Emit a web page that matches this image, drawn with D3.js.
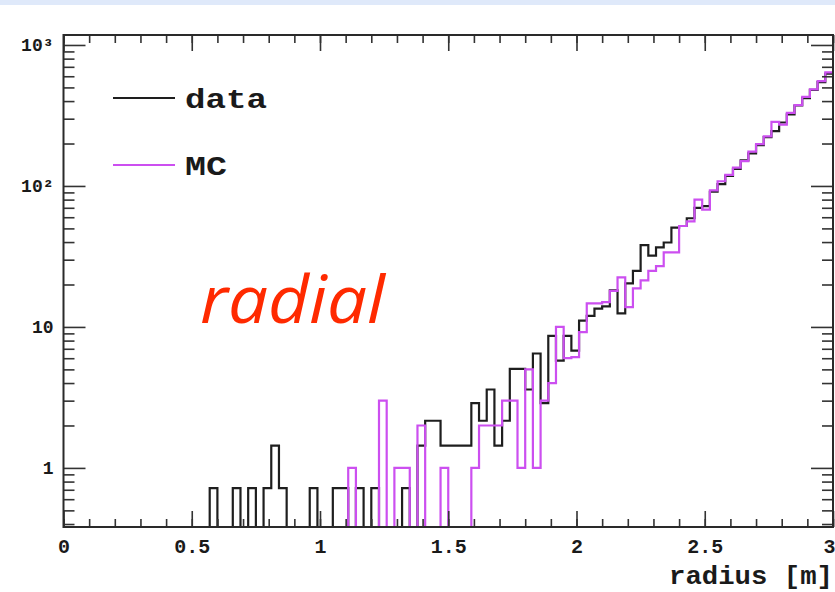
<!DOCTYPE html>
<html><head><meta charset="utf-8">
<script src="https://cdn.jsdelivr.net/npm/d3@7"></script>
<style>
html,body{margin:0;padding:0;background:#fff;overflow:hidden}
svg{display:block}
</style></head>
<body>
<svg id="chart" width="835" height="592"></svg>
<script>
// bin edges: 100 bins of 0.03 m from 0 to 3 m
const binWidth = 0.03;
const nBins = 100;
// data histogram (black)
const dataValues = [
 0,0,0,0,0,0,0,0,0,0,
 0,0,0,0,0,0,0,0,0,0.72,
 0,0,0.72,0,0.72,0,0.72,1.44,0.72,0,
 0,0,0.72,0,0,0.72,0.72,0,0.72,0,
 0.72,0,0,0,0.72,0,1.44,2.16,2.16,1.44,
 1.44,1.44,1.44,2.88,2.16,3.6,1.44,2.16,5.04,5.04,
 3.6,6.48,2.88,8.64,5.76,8.64,6.8,11.1,12,13.5,
 14,18.2,12.5,20.4,25,38,32,36.7,39.7,50.7,
 52,59,70,72,91,103,118,132,152,170,
 195,222,245,282,322,372,420,480,545,625
];
// MC histogram (magenta)
const mcValues = [
 0,0,0,0,0,0,0,0,0,0,
 0,0,0,0,0,0,0,0,0,0,
 0,0,0,0,0,0,0,0,0,0,
 0,0,0,0,0,0,0,1,0,0,
 0,3,0,1,1,0,2,0,0,1,
 0,0,0,1,2,2,2,3,3,1,
 5,1,3,4,10,6,6.1,9.2,14.7,14.7,
 15,18,22.5,13.8,18.8,21.4,25,27,33.8,33.8,
 52,56,80,68,93,108,120,135,150,175,
 198,225,285,272,330,375,428,485,555,640
];
const xMajorTicks = [0, 0.5, 1, 1.5, 2, 2.5, 3];
const xMinorTicks = d3.range(0, 31).map(d => d / 10);
const yMajorTicks = [1, 10, 100, 1000];
const yTickLabels = ["1", "10", "10²", "10³"];
const yMinorTicks = [0.4,0.5,0.6,0.7,0.8,0.9,2,3,4,5,6,7,8,9,20,30,40,50,60,70,80,90,200,300,400,500,600,700,800,900];
const seriesNames = ["data", "MC"];
const seriesColors = ["#1e1e1e", "#cc4ff0"];

const svg = d3.select("#chart");
const L = 63.5, R = 833, T = 35, B = 527;
const yMin = 0.381, yMax = 1177;
const x = d3.scaleLinear().domain([0, 3]).range([L, R]);
const y = d3.scaleLog().domain([yMin, yMax]).range([B, T]);

// top light band
svg.append("rect").attr("x", 0).attr("y", 0).attr("width", 835).attr("height", 5).attr("fill", "#dfe9fa");

const mono = "'Liberation Mono','DejaVu Sans Mono',monospace";

// histogram step paths
function stepPoints(vals) {
  const pts = vals.map((v, i) => [i * binWidth, v]);
  pts.push([nBins * binWidth, vals[vals.length - 1]]);
  return pts;
}
const line = d3.line()
  .x(d => x(d[0]))
  .y(d => d[1] > 0 ? y(Math.max(d[1], yMin)) : B)
  .curve(d3.curveStepAfter);

svg.append("clipPath").attr("id", "clip").append("rect")
  .attr("x", L - 2).attr("y", T).attr("width", R - L + 4).attr("height", B - T + 1);

[dataValues, mcValues].forEach((vals, k) => {
  svg.append("path")
    .attr("d", line(stepPoints(vals)))
    .attr("fill", "none")
    .attr("stroke", seriesColors[k])
    .attr("stroke-width", 2.2)
    .attr("clip-path", "url(#clip)");
});

// axes (inward ticks)
const axG = svg.append("g");
function styleAxis(g) {
  g.select(".domain").remove();
  g.selectAll(".tick line").attr("stroke", "#333").attr("stroke-width", 1.6);
  g.selectAll("text").attr("font-family", mono).attr("font-weight", "bold").attr("fill", "#1a1a1a");
}
// bottom
axG.append("g").attr("transform", `translate(0,${B})`)
  .call(d3.axisBottom(x).tickValues(xMinorTicks).tickSize(-8).tickFormat(""))
  .call(styleAxis);
axG.append("g").attr("transform", `translate(0,${B})`)
  .call(d3.axisBottom(x).tickValues(xMajorTicks).tickSize(-16).tickPadding(12).tickFormat(d3.format("")))
  .call(styleAxis)
  .call(g => g.selectAll("text").attr("font-size", 20)
    .attr("text-anchor", d => d === 3 ? "end" : "middle")
    .attr("dx", d => d === 3 ? 2 : 0));
// top
axG.append("g").attr("transform", `translate(0,${T})`)
  .call(d3.axisTop(x).tickValues(xMinorTicks).tickSize(-8).tickFormat(""))
  .call(styleAxis);
axG.append("g").attr("transform", `translate(0,${T})`)
  .call(d3.axisTop(x).tickValues(xMajorTicks).tickSize(-16).tickFormat(""))
  .call(styleAxis);
// left
axG.append("g").attr("transform", `translate(${L},0)`)
  .call(d3.axisLeft(y).tickValues(yMinorTicks).tickSize(-11).tickFormat(""))
  .call(styleAxis);
axG.append("g").attr("transform", `translate(${L},0)`)
  .call(d3.axisLeft(y).tickValues(yMajorTicks).tickSize(-22).tickPadding(10)
    .tickFormat((d, i) => yTickLabels[i]))
  .call(styleAxis)
  .call(g => g.selectAll("text").attr("font-size", 18));
// right
axG.append("g").attr("transform", `translate(${R},0)`)
  .call(d3.axisRight(y).tickValues(yMinorTicks).tickSize(-11).tickFormat(""))
  .call(styleAxis);
axG.append("g").attr("transform", `translate(${R},0)`)
  .call(d3.axisRight(y).tickValues(yMajorTicks).tickSize(-22).tickFormat(""))
  .call(styleAxis);

// frame
svg.append("rect").attr("x", L).attr("y", T).attr("width", R - L).attr("height", B - T)
  .attr("fill", "none").attr("stroke", "#2a2a2a").attr("stroke-width", 2);

// x title
svg.append("text").attr("x", 833).attr("y", 584).attr("text-anchor", "end")
  .attr("font-family", mono).attr("font-weight", "bold").attr("font-size", 25)
  .attr("textLength", 164).attr("lengthAdjust", "spacingAndGlyphs")
  .attr("fill", "#1a1a1a").text("radius [m]");

// legend
const legY = [98, 165];
const legLen = [82, 42];
seriesNames.forEach((name, k) => {
  svg.append("line").attr("x1", 113).attr("x2", 175).attr("y1", legY[k]).attr("y2", legY[k])
    .attr("stroke", seriesColors[k]).attr("stroke-width", 1.8);
  svg.append("text").attr("x", 185).attr("y", legY[k] + 10)
    .attr("font-family", mono).attr("font-weight", "bold").attr("font-size", 27)
    .attr("textLength", legLen[k]).attr("lengthAdjust", "spacingAndGlyphs")
    .attr("fill", "#1a1a1a").text(name);
});

// annotation
svg.append("text").attr("x", 200).attr("y", 323)
  .attr("font-family", "'Open Sans','Noto Sans',sans-serif").attr("font-style", "italic")
  .attr("font-size", 66).attr("textLength", 185).attr("lengthAdjust", "spacingAndGlyphs")
  .attr("fill", "#ff2a00").text("radial");
</script>
</body></html>
